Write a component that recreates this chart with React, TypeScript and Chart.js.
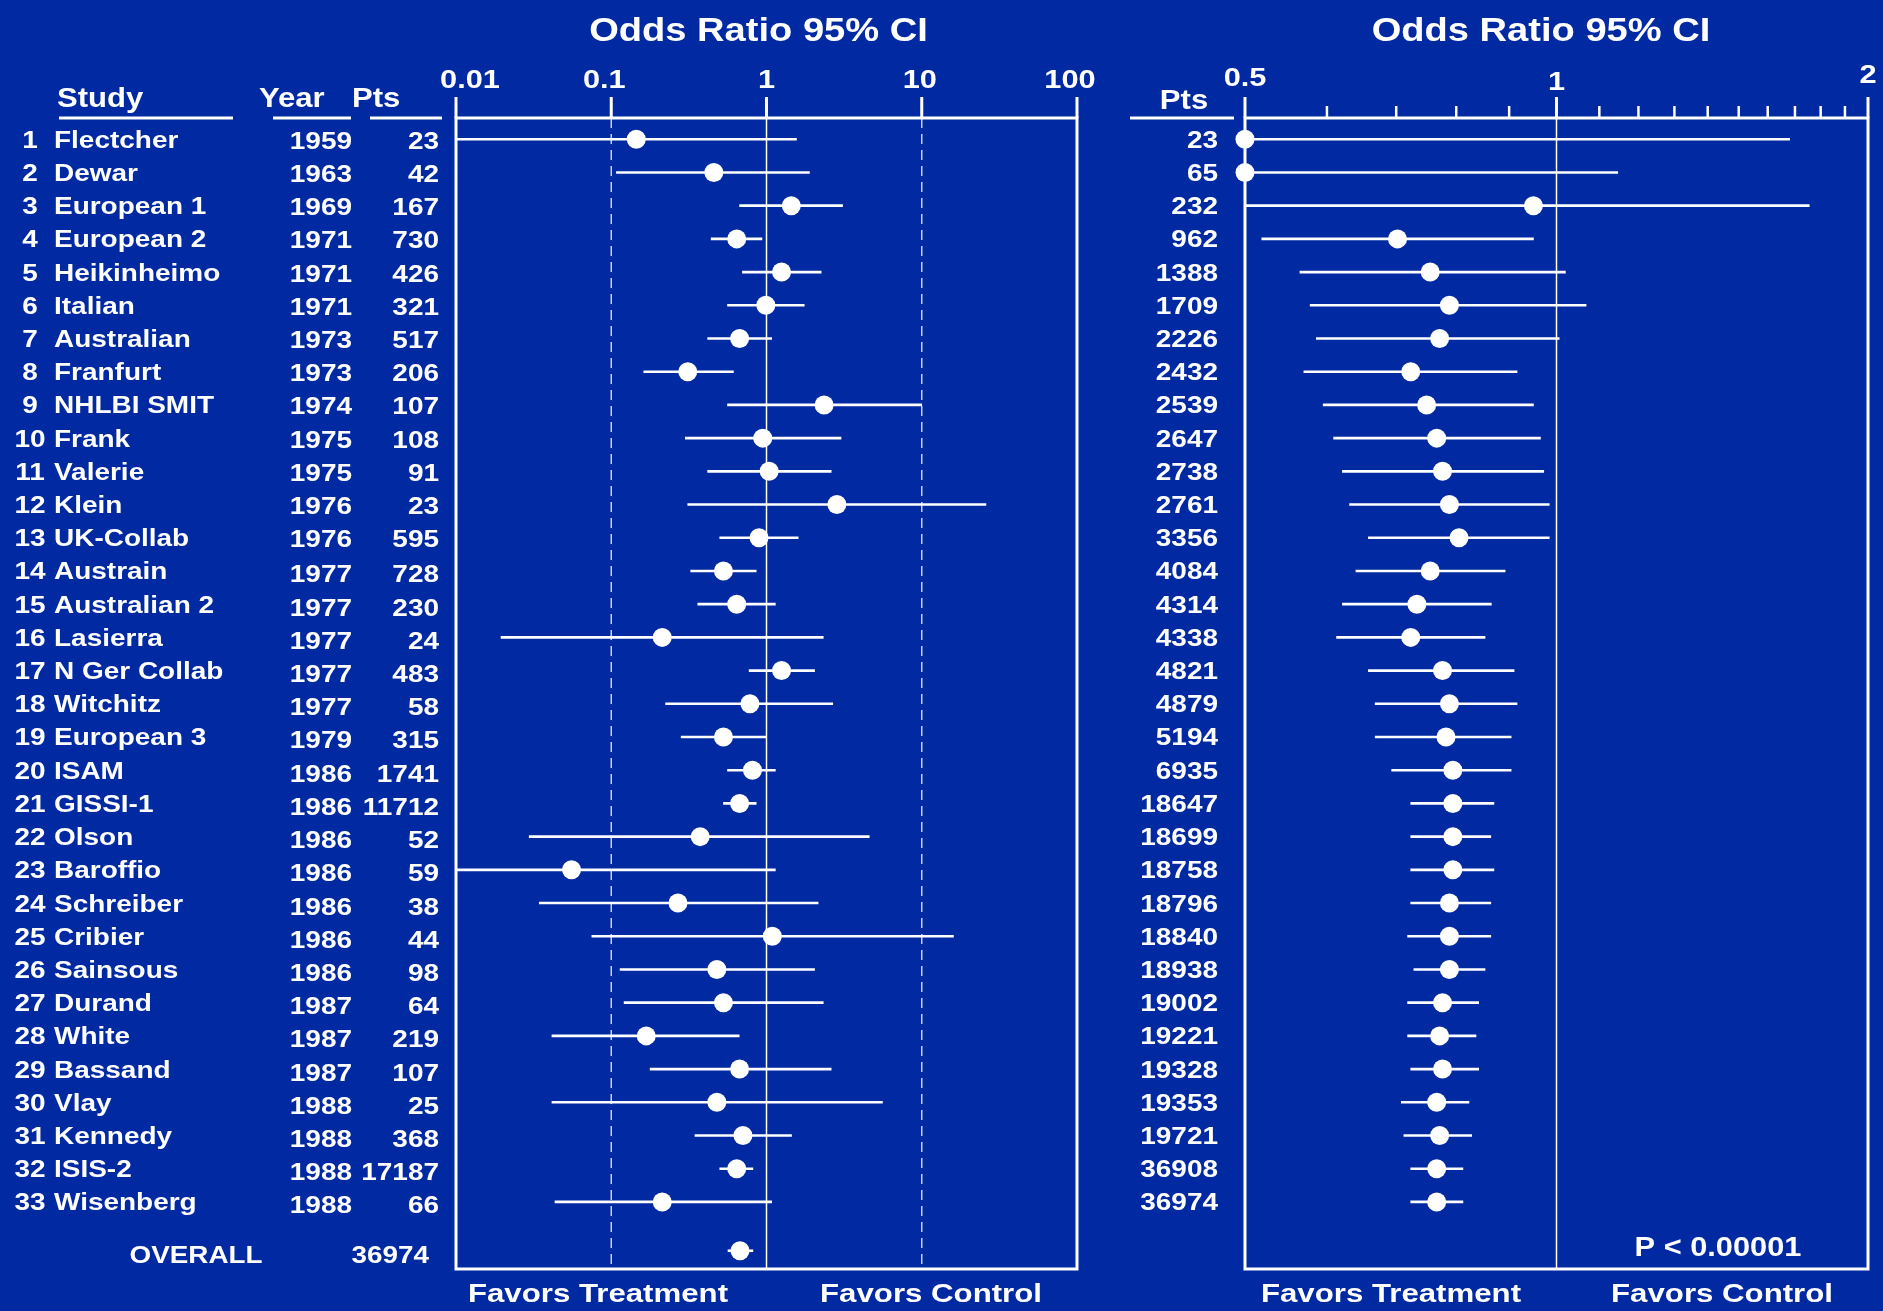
import React, { useEffect, useRef } from 'react';
import { Chart, registerables } from 'chart.js';
Chart.register(...registerables);

// ---------------- data ----------------
const studyNames = ['Flectcher', 'Dewar', 'European 1', 'European 2', 'Heikinheimo', 'Italian', 'Australian', 'Franfurt', 'NHLBI SMIT', 'Frank', 'Valerie', 'Klein', 'UK-Collab', 'Austrain', 'Australian 2', 'Lasierra', 'N Ger Collab', 'Witchitz', 'European 3', 'ISAM', 'GISSI-1', 'Olson', 'Baroffio', 'Schreiber', 'Cribier', 'Sainsous', 'Durand', 'White', 'Bassand', 'Vlay', 'Kennedy', 'ISIS-2', 'Wisenberg'];
const studyYears = [1959, 1963, 1969, 1971, 1971, 1971, 1973, 1973, 1974, 1975, 1975, 1976, 1976, 1977, 1977, 1977, 1977, 1977, 1979, 1986, 1986, 1986, 1986, 1986, 1986, 1986, 1987, 1987, 1987, 1988, 1988, 1988, 1988];
const studyPts = [23, 42, 167, 730, 426, 321, 517, 206, 107, 108, 91, 23, 595, 728, 230, 24, 483, 58, 315, 1741, 11712, 52, 59, 38, 44, 98, 64, 219, 107, 25, 368, 17187, 66];

// individual odds ratios (left panel)
const studyOR = [0.145, 0.458, 1.445, 0.643, 1.25, 0.99, 0.671, 0.311, 2.35, 0.946, 1.04, 2.84, 0.895, 0.528, 0.643, 0.213, 1.25, 0.782, 0.528, 0.812, 0.671, 0.374, 0.0555, 0.269, 1.09, 0.479, 0.528, 0.168, 0.671, 0.479, 0.705, 0.643, 0.213];
const studyLo = [0.01, 0.108, 0.671, 0.44, 0.70, 0.561, 0.418, 0.162, 0.561, 0.30, 0.418, 0.311, 0.50, 0.325, 0.361, 0.0195, 0.773, 0.224, 0.282, 0.561, 0.528, 0.0296, 0.01, 0.0344, 0.075, 0.114, 0.121, 0.0415, 0.178, 0.0415, 0.346, 0.50, 0.0434];
const studyHi = [1.56, 1.89, 3.09, 0.935, 2.25, 1.75, 1.08, 0.612, 10, 3.02, 2.61, 25.9, 1.60, 0.858, 1.14, 2.32, 2.04, 2.67, 1.0, 1.14, 0.858, 4.59, 1.14, 2.15, 16.0, 2.04, 2.32, 0.667, 2.61, 5.58, 1.45, 0.817, 1.08];

const overallLabel = 'OVERALL';
const overallPts = 36974;
const overallOR = 0.675;
const overallLo = 0.565;
const overallHi = 0.817;

// cumulative odds ratios (right panel)
const cumPts = [23, 65, 232, 962, 1388, 1709, 2226, 2432, 2539, 2647, 2738, 2761, 3356, 4084, 4314, 4338, 4821, 4879, 5194, 6935, 18647, 18699, 18758, 18796, 18840, 18938, 19002, 19221, 19328, 19353, 19721, 36908, 36974];
const cumOR = [0.5, 0.5, 0.95, 0.702, 0.755, 0.788, 0.771, 0.723, 0.749, 0.766, 0.776, 0.788, 0.805, 0.755, 0.733, 0.723, 0.776, 0.788, 0.782, 0.794, 0.794, 0.794, 0.794, 0.788, 0.788, 0.788, 0.776, 0.771, 0.776, 0.766, 0.771, 0.766, 0.766];
const cumLo = [0.5, 0.5, 0.5, 0.519, 0.565, 0.578, 0.586, 0.570, 0.595, 0.609, 0.621, 0.631, 0.658, 0.640, 0.621, 0.613, 0.658, 0.668, 0.668, 0.693, 0.723, 0.723, 0.723, 0.723, 0.718, 0.728, 0.718, 0.718, 0.723, 0.708, 0.712, 0.723, 0.723];
const cumHi = [1.68, 1.146, 1.755, 0.95, 1.02, 1.068, 1.006, 0.916, 0.95, 0.965, 0.972, 0.984, 0.984, 0.892, 0.865, 0.853, 0.91, 0.916, 0.904, 0.904, 0.870, 0.864, 0.870, 0.864, 0.864, 0.853, 0.841, 0.836, 0.841, 0.823, 0.828, 0.812, 0.812];

const leftTicks = [0.01, 0.1, 1, 10, 100];
const leftTickLabels = ['0.01', '0.1', '1', '10', '100'];
const leftDashed = [0.1, 10];
const rightMajorTicks = [0.5, 1, 2];
const rightTickLabels = ['0.5', '1', '2'];
const rightMinorTicks = [0.6, 0.7, 0.8, 0.9, 1.1, 1.2, 1.3, 1.4, 1.5, 1.6, 1.7, 1.8, 1.9];

const titleText = 'Odds Ratio 95% CI';
const favorsTreatment = 'Favors Treatment';
const favorsControl = 'Favors Control';
const pValueText = 'P < 0.00001';

// ---------------- styling ----------------
const BG = '#0029A2';
const WHITE = '#ffffff';
const FONT = '"Liberation Sans", Arial, Helvetica, sans-serif';
const OVERALL_ROW = 34.47;
// small nudges of tick labels, as in the original slide
const leftTickLabelNudge = [14, -7, 0, -2, -7];
const rightTickLabelY = [76, 80, 73];

// y is the vertical centre of the capital letters
function txt(ctx: CanvasRenderingContext2D, s: string, x: number, y: number, size: number, align: CanvasTextAlign, sx = 1.17) {
  ctx.save();
  ctx.font = `bold ${size}px ${FONT}`;
  ctx.fillStyle = WHITE;
  ctx.textBaseline = 'alphabetic';
  ctx.textAlign = align;
  ctx.translate(x, y + 0.36 * size);
  ctx.scale(sx, 1);
  ctx.fillText(s, 0, 0);
  ctx.restore();
}

function hline(ctx: CanvasRenderingContext2D, x1: number, x2: number, y: number, w: number) {
  ctx.save();
  ctx.strokeStyle = WHITE;
  ctx.lineWidth = w;
  ctx.beginPath();
  ctx.moveTo(x1, y);
  ctx.lineTo(x2, y);
  ctx.stroke();
  ctx.restore();
}

function vline(ctx: CanvasRenderingContext2D, x: number, y1: number, y2: number, w: number, color = WHITE, dash: number[] = []) {
  ctx.save();
  ctx.strokeStyle = color;
  ctx.lineWidth = w;
  ctx.setLineDash(dash);
  ctx.beginPath();
  ctx.moveTo(x, y1);
  ctx.lineTo(x, y2);
  ctx.stroke();
  ctx.restore();
}

function makeConfig(ci: any[], pts: any[], xMin: number, xMax: number, padding: any, plugin: any) {
  return {
    type: 'bar',
    data: {
      datasets: [
        {
          type: 'scatter',
          data: pts,
          pointRadius: 9.5,
          pointStyle: 'circle',
          pointBackgroundColor: WHITE,
          pointBorderColor: WHITE,
          pointBorderWidth: 0,
          clip: false,
          order: 1,
        },
        {
          type: 'bar',
          data: ci,
          indexAxis: 'y',
          backgroundColor: WHITE,
          borderWidth: 0,
          barThickness: 2,
          order: 2,
        },
      ],
    },
    options: {
      indexAxis: 'y',
      animation: false,
      responsive: false,
      events: [],
      layout: { padding },
      plugins: { legend: { display: false }, tooltip: { enabled: false }, title: { display: false } },
      scales: {
        x: { type: 'logarithmic', min: xMin, max: xMax, display: false, offset: false },
        y: { type: 'linear', min: 0.36, max: 35.02, reverse: true, display: false, offset: false },
      },
    },
    plugins: [plugin],
  } as any;
}

const leftPlugin = {
  id: 'leftDeco',
  beforeDatasetsDraw(chart: any) {
    const { ctx, chartArea: a, scales } = chart;
    const x = scales.x;
    leftDashed.forEach((v) => vline(ctx, x.getPixelForValue(v), a.top, a.bottom, 1.5, 'rgba(225,225,240,0.9)', [10, 6]));
    vline(ctx, x.getPixelForValue(1), a.top, a.bottom, 1.5);
  },
  afterDraw(chart: any) {
    const { ctx, chartArea: a, scales } = chart;
    const x = scales.x;
    const y = scales.y;
    ctx.save();
    ctx.strokeStyle = WHITE;
    ctx.lineWidth = 3;
    ctx.strokeRect(a.left, a.top, a.right - a.left, a.bottom - a.top);
    ctx.restore();
    leftTicks.forEach((v, i) => {
      const px = x.getPixelForValue(v);
      vline(ctx, px, a.top - 21, a.top, 3);
      txt(ctx, leftTickLabels[i], px + leftTickLabelNudge[i], 78, 26.5, 'center', 1.16);
    });
    txt(ctx, titleText, (a.left + a.right) / 2 - 8, 29, 34, 'center', 1.12);
    txt(ctx, 'Study', 57, 97, 27, 'left', 1.15);
    txt(ctx, 'Year', 259, 97, 27, 'left', 1.15);
    txt(ctx, 'Pts', 352, 97, 27, 'left', 1.15);
    hline(ctx, 59, 233, a.top, 3);
    hline(ctx, 273, 351, a.top, 3);
    hline(ctx, 370, 442, a.top, 3);
    studyNames.forEach((name, i) => {
      const py = y.getPixelForValue(i + 1);
      const dy = i >= 13 ? 3 : 1;
      txt(ctx, String(i + 1), 30, py, 23.5, 'center', 1.19);
      txt(ctx, name, 54, py, 23.5, 'left', 1.19);
      txt(ctx, String(studyYears[i]), 352, py + dy, 23.5, 'right', 1.19);
      txt(ctx, String(studyPts[i]), 439, py + dy, 23.5, 'right', 1.19);
    });
    const oy = y.getPixelForValue(OVERALL_ROW) + 4;
    txt(ctx, overallLabel, 196, oy, 24, 'center', 1.16);
    txt(ctx, String(overallPts), 429, oy, 24, 'right', 1.16);
    txt(ctx, favorsTreatment, 598, 1293, 26, 'center', 1.2);
    txt(ctx, favorsControl, 931, 1293, 26, 'center', 1.2);
  },
};

const rightPlugin = {
  id: 'rightDeco',
  beforeDatasetsDraw(chart: any) {
    const { ctx, chartArea: a, scales } = chart;
    vline(ctx, scales.x.getPixelForValue(1), a.top, a.bottom, 1.5);
  },
  afterDraw(chart: any) {
    const { ctx, chartArea: a, scales } = chart;
    const x = scales.x;
    const y = scales.y;
    ctx.save();
    ctx.strokeStyle = WHITE;
    ctx.lineWidth = 3;
    ctx.strokeRect(a.left, a.top, a.right - a.left, a.bottom - a.top);
    ctx.restore();
    rightMajorTicks.forEach((v, i) => {
      const px = x.getPixelForValue(v);
      vline(ctx, px, a.top - 21, a.top, 3);
      txt(ctx, rightTickLabels[i], px, rightTickLabelY[i], 26.5, 'center', 1.16);
    });
    rightMinorTicks.forEach((v) => {
      vline(ctx, x.getPixelForValue(v), a.top - 12, a.top, 2.5);
    });
    txt(ctx, titleText, 441, 29, 34, 'center', 1.12);
    txt(ctx, 'Pts', 84, 99, 27, 'center', 1.15);
    hline(ctx, 30, 134, a.top, 3);
    cumPts.forEach((p, i) => {
      const py = y.getPixelForValue(i + 1);
      txt(ctx, String(p), 118, py, 23.5, 'right', 1.19);
    });
    txt(ctx, pValueText, 618, 1246, 27, 'center', 1.14);
    txt(ctx, favorsTreatment, 291, 1293, 26, 'center', 1.2);
    txt(ctx, favorsControl, 622, 1293, 26, 'center', 1.2);
  },
};

export default function App() {
  const leftRef = useRef<HTMLCanvasElement>(null);
  const rightRef = useRef<HTMLCanvasElement>(null);

  useEffect(() => {
    const leftCI = studyNames.map((_, i) => ({ x: [studyLo[i], studyHi[i]], y: i + 1 }));
    leftCI.push({ x: [overallLo, overallHi], y: OVERALL_ROW });
    const leftPts = studyNames.map((_, i) => ({ x: studyOR[i], y: i + 1 }));
    leftPts.push({ x: overallOR, y: OVERALL_ROW });

    const rightCI = cumPts.map((_, i) => ({ x: [cumLo[i], cumHi[i]], y: i + 1 }));
    const rightPts = cumPts.map((_, i) => ({ x: cumOR[i], y: i + 1 }));

    const c1 = new Chart(leftRef.current as HTMLCanvasElement,
      makeConfig(leftCI, leftPts, 0.01, 100, { left: 456, right: 23, top: 118, bottom: 42 }, leftPlugin));
    const c2 = new Chart(rightRef.current as HTMLCanvasElement,
      makeConfig(rightCI, rightPts, 0.5, 2, { left: 145, right: 15, top: 118, bottom: 42 }, rightPlugin));
    return () => {
      c1.destroy();
      c2.destroy();
    };
  }, []);

  return (
    <div style={{ position: 'fixed', left: 0, top: 0, width: 1883, height: 1311, background: BG, overflow: 'hidden' }}>
      <canvas ref={leftRef} width={1100} height={1311} style={{ position: 'absolute', left: 0, top: 0, width: 1100, height: 1311 }} />
      <canvas ref={rightRef} width={783} height={1311} style={{ position: 'absolute', left: 1100, top: 0, width: 783, height: 1311 }} />
    </div>
  );
}
